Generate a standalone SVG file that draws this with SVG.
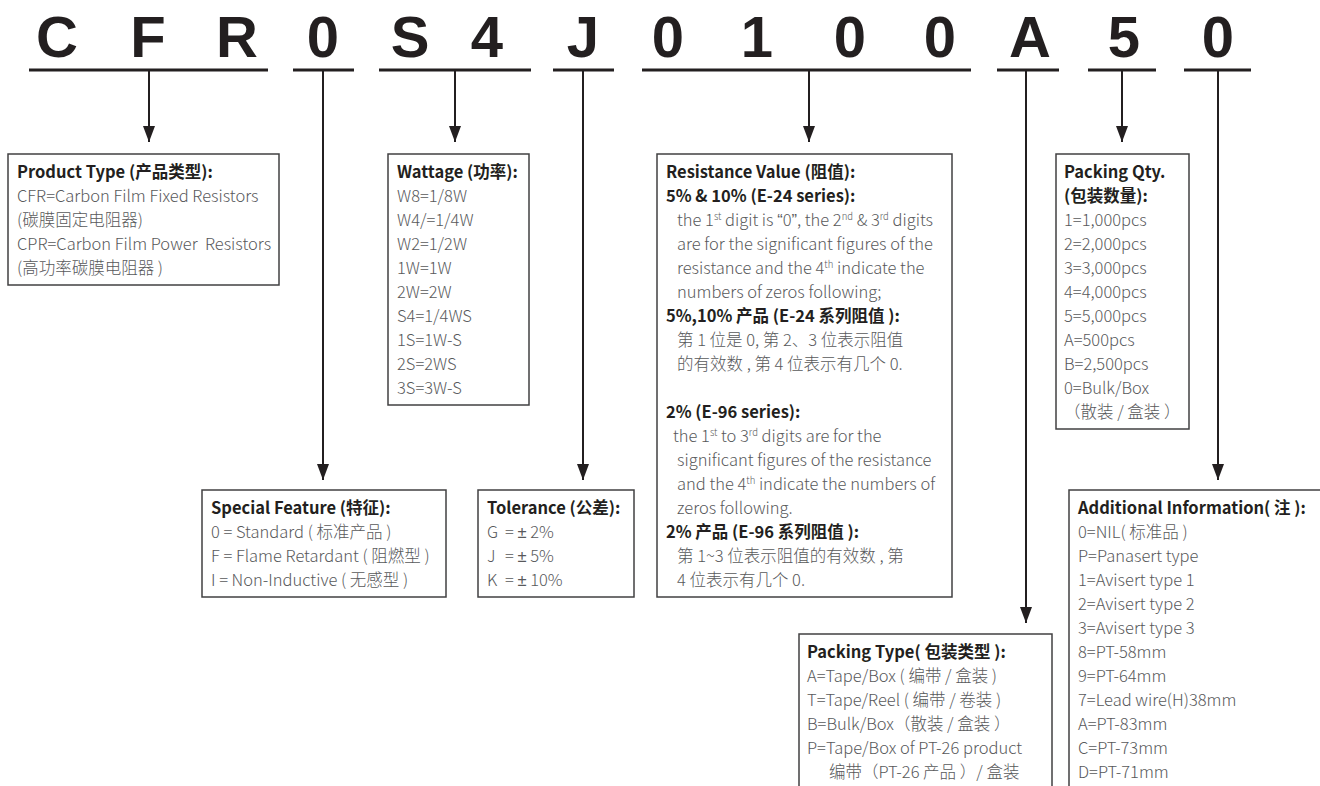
<svg xmlns="http://www.w3.org/2000/svg" width="1320" height="786" viewBox="0 0 1320 786">
<style>
.code{font-family:"Liberation Sans",Arial,sans-serif;font-weight:700;font-size:58px;fill:#231f20;text-anchor:middle}
.box{fill:#ffffff;stroke:#414042;stroke-width:1.5}
.t{font-family:"Noto Sans CJK SC","Liberation Sans",sans-serif;font-size:16.5px;font-weight:700;fill:#231f20}
.b{font-family:"Noto Sans CJK SC","Liberation Sans",sans-serif;font-size:16.5px;font-weight:300;fill:#58595b}
.lat{font-family:"Liberation Sans",Arial,sans-serif}
.sup{font-size:9.5px}
.ul{stroke:#231f20;stroke-width:3;fill:none}
.ln{stroke:#231f20;stroke-width:2;fill:none}
.arr{marker-end:url(#ah)}
</style>
<defs>
<marker id="ah" markerUnits="userSpaceOnUse" viewBox="0 0 16 12" markerWidth="16" markerHeight="12" refX="16" refY="6" orient="auto">
<path d="M0,0 L16,6 L0,12 z" fill="#231f20"/>
</marker>
</defs>
<rect width="1320" height="786" fill="#ffffff"/>

<g id="code">
<text class="code" x="57" y="57">C</text>
<text class="code" x="148" y="57">F</text>
<text class="code" x="237" y="57">R</text>
<text class="code" x="323" y="57">0</text>
<text class="code" x="410" y="57">S</text>
<text class="code" x="487" y="57">4</text>
<text class="code" x="583" y="57">J</text>
<text class="code" x="668" y="57">0</text>
<text class="code" x="757" y="57">1</text>
<text class="code" x="850" y="57">0</text>
<text class="code" x="940" y="57">0</text>
<text class="code" x="1030" y="57">A</text>
<text class="code" x="1124" y="57">5</text>
<text class="code" x="1218" y="57">0</text>
</g>

<g id="connectors">
<line class="ul" x1="29" y1="70" x2="268" y2="70"/>
<line class="ul" x1="293" y1="70" x2="354" y2="70"/>
<line class="ul" x1="379" y1="70" x2="531" y2="70"/>
<line class="ul" x1="553" y1="70" x2="614" y2="70"/>
<line class="ul" x1="642" y1="70" x2="971" y2="70"/>
<line class="ul" x1="997" y1="70" x2="1059" y2="70"/>
<line class="ul" x1="1088" y1="70" x2="1156" y2="70"/>
<line class="ul" x1="1184" y1="70" x2="1251" y2="70"/>
<line class="ln arr" x1="149" y1="70" x2="149" y2="142"/>
<line class="ln arr" x1="323" y1="70" x2="323" y2="480"/>
<line class="ln arr" x1="455" y1="70" x2="455" y2="142"/>
<line class="ln arr" x1="583" y1="70" x2="583" y2="480"/>
<line class="ln arr" x1="809" y1="70" x2="809" y2="142"/>
<line class="ln arr" x1="1026" y1="70" x2="1026" y2="623"/>
<line class="ln arr" x1="1122" y1="70" x2="1122" y2="142"/>
<line class="ln arr" x1="1218" y1="70" x2="1218" y2="480"/>
</g>

<g id="product-type">
<rect class="box" x="8" y="154" width="271" height="131"/>
<text class="t" x="17" y="178">Product Type (产品类型):</text>
<text class="b" x="17" y="202">CFR=Carbon Film Fixed Resistors</text>
<text class="b" x="17" y="226">(碳膜固定电阻器)</text>
<text class="b" x="17" y="250" xml:space="preserve">CPR=Carbon Film Power  Resistors</text>
<text class="b" x="17" y="274">(高功率碳膜电阻器 )</text>
</g>

<g id="wattage">
<rect class="box" x="388" y="154" width="141" height="251"/>
<text class="t" x="397" y="178">Wattage (功率):</text>
<text class="b" x="397" y="202">W8=1/8W</text>
<text class="b" x="397" y="226">W4/=1/4W</text>
<text class="b" x="397" y="250">W2=1/2W</text>
<text class="b" x="397" y="274">1W=1W</text>
<text class="b" x="397" y="298">2W=2W</text>
<text class="b" x="397" y="322">S4=1/4WS</text>
<text class="b" x="397" y="346">1S=1W-S</text>
<text class="b" x="397" y="370">2S=2WS</text>
<text class="b" x="397" y="394">3S=3W-S</text>
</g>

<g id="resistance-value">
<rect class="box" x="657" y="154" width="295" height="443"/>
<text class="t" x="666" y="178">Resistance Value (阻值):</text>
<text class="t" x="666" y="202">5% &amp; 10% (E-24 series):</text>
<text class="b" x="677" y="226">the 1<tspan class="sup" dy="-6">st</tspan><tspan dy="6"> digit is </tspan><tspan class="lat">“</tspan>0<tspan class="lat">”</tspan>, the 2<tspan class="sup" dy="-6">nd</tspan><tspan dy="6"> &amp; 3</tspan><tspan class="sup" dy="-6">rd</tspan><tspan dy="6"> digits</tspan></text>
<text class="b" x="677" y="250">are for the significant figures of the</text>
<text class="b" x="677" y="274">resistance and the 4<tspan class="sup" dy="-6">th</tspan><tspan dy="6"> indicate the</tspan></text>
<text class="b" x="677" y="298">numbers of zeros following;</text>
<text class="t" x="666" y="322">5%,10% 产品 (E-24 系列阻值 ):</text>
<text class="b" x="677" y="346">第 1 位是 0, 第 2、3 位表示阻值</text>
<text class="b" x="677" y="370">的有效数 , 第 4 位表示有几个 0.</text>
<text class="t" x="666" y="418">2% (E-96 series):</text>
<text class="b" x="673" y="442">the 1<tspan class="sup" dy="-6">st</tspan><tspan dy="6"> to 3</tspan><tspan class="sup" dy="-6">rd</tspan><tspan dy="6"> digits are for the</tspan></text>
<text class="b" x="677" y="466">significant figures of the resistance</text>
<text class="b" x="677" y="490">and the 4<tspan class="sup" dy="-6">th</tspan><tspan dy="6"> indicate the numbers of</tspan></text>
<text class="b" x="677" y="514">zeros following.</text>
<text class="t" x="666" y="538">2% 产品 (E-96 系列阻值 ):</text>
<text class="b" x="677" y="562">第 1~3 位表示阻值的有效数 , 第</text>
<text class="b" x="677" y="586">4 位表示有几个 0.</text>
</g>

<g id="packing-qty">
<rect class="box" x="1056" y="154" width="133" height="275"/>
<text class="t" x="1064" y="178">Packing Qty.</text>
<text class="t" x="1064" y="202">(包装数量):</text>
<text class="b" x="1064" y="226">1=1,000pcs</text>
<text class="b" x="1064" y="250">2=2,000pcs</text>
<text class="b" x="1064" y="274">3=3,000pcs</text>
<text class="b" x="1064" y="298">4=4,000pcs</text>
<text class="b" x="1064" y="322">5=5,000pcs</text>
<text class="b" x="1064" y="346">A=500pcs</text>
<text class="b" x="1064" y="370">B=2,500pcs</text>
<text class="b" x="1064" y="394">0=Bulk/Box</text>
<text class="b" x="1064" y="418">（散装 / 盒装 ）</text>
</g>

<g id="special-feature">
<rect class="box" x="202" y="490" width="244" height="107"/>
<text class="t" x="211" y="514">Special Feature (特征):</text>
<text class="b" x="211" y="538">0 = Standard ( 标准产品 )</text>
<text class="b" x="211" y="562">F = Flame Retardant ( 阻燃型 )</text>
<text class="b" x="211" y="586">I = Non-Inductive ( 无感型 )</text>
</g>

<g id="tolerance">
<rect class="box" x="478" y="490" width="156" height="107"/>
<text class="t" x="487" y="514">Tolerance (公差):</text>
<text class="b" x="487" y="538">G</text><text class="b" x="505" y="538">= <tspan class="lat">±</tspan> 2%</text>
<text class="b" x="487" y="562">J</text><text class="b" x="505" y="562">= <tspan class="lat">±</tspan> 5%</text>
<text class="b" x="487" y="586">K</text><text class="b" x="505" y="586">= <tspan class="lat">±</tspan> 10%</text>
</g>

<g id="packing-type">
<rect class="box" x="799" y="634" width="253" height="200"/>
<text class="t" x="807" y="658">Packing Type( 包装类型 ):</text>
<text class="b" x="807" y="682">A=Tape/Box ( 编带 / 盒装 )</text>
<text class="b" x="807" y="706">T=Tape/Reel ( 编带 / 卷装 )</text>
<text class="b" x="807" y="730">B=Bulk/Box（散装 / 盒装 ）</text>
<text class="b" x="807" y="754">P=Tape/Box of PT-26 product</text>
<text class="b" x="829" y="778">编带（PT-26 产品 ）/ 盒装</text>
</g>

<g id="additional-information">
<rect class="box" x="1069" y="490" width="300" height="400"/>
<text class="t" x="1078" y="514">Additional Information( 注 ):</text>
<text class="b" x="1078" y="538">0=NIL( 标准品 )</text>
<text class="b" x="1078" y="562">P=Panasert type</text>
<text class="b" x="1078" y="586">1=Avisert type 1</text>
<text class="b" x="1078" y="610">2=Avisert type 2</text>
<text class="b" x="1078" y="634">3=Avisert type 3</text>
<text class="b" x="1078" y="658">8=PT-58mm</text>
<text class="b" x="1078" y="682">9=PT-64mm</text>
<text class="b" x="1078" y="706">7=Lead wire(H)38mm</text>
<text class="b" x="1078" y="730">A=PT-83mm</text>
<text class="b" x="1078" y="754">C=PT-73mm</text>
<text class="b" x="1078" y="778">D=PT-71mm</text>
</g>
</svg>
